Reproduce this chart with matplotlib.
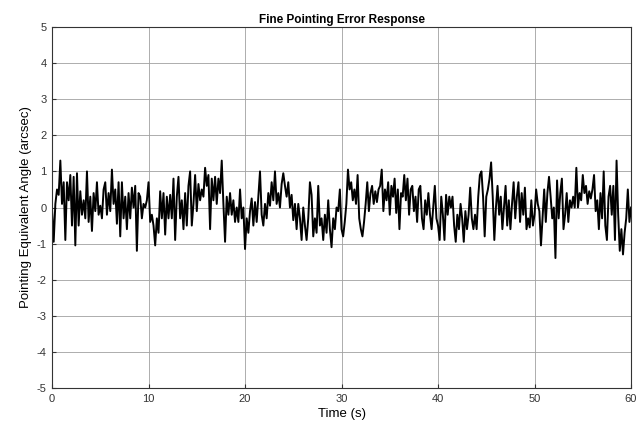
import numpy as np
import matplotlib.pyplot as plt

plt.rcParams['font.family'] = ['Liberation Sans', 'DejaVu Sans']
plt.rcParams['axes.unicode_minus'] = False

# pointing error samples, one list per 10 s span (arcsec)
err_0_10 = [-0.04, -0.95, 0.1, 0.5, 0.35, 1.3, 0.1, 0.7, -0.9, 0.7, 0.2, 0.9, -0.5, 0.85, -1.05,
            0.95, -0.5, 0.45, -0.2, 0.2, -0.3, 1.0, -0.4, 0.3, -0.65, 0.4, -0.1, 0.7, -0.2, 0.05,
            -0.3, 0.5, 0.7, -0.2, 0.4, -0.1, 1.05, 0.1, 0.5, -0.45, 0.7, -0.8, 0.7, -0.3, 0.3,
            -0.6, 0.4, -0.3, 0.55, 0.0, 0.6, -1.2, 0.4, 0.3, -0.3, 0.1, 0.0, 0.2]
err_10_20 = [0.7, -0.4, -0.2, -0.5, -1.05, -0.3, -0.7, 0.45, -0.3, 0.4, -0.75, 0.3, -0.3, 0.35,
             -0.3, 0.8, -0.9, 0.3, 0.85, -0.3, 0.2, -0.6, 0.4, -0.5, 0.6, 1.0, -0.5, 0.1, 0.9,
             -0.1, 0.65, 0.2, 0.5, 0.3, 1.1, 0.6, 0.9, -0.6, 0.8, 0.2, 0.85, 0.1, 0.8, 0.4, 1.3,
             0.1, -0.95, 0.3, -0.2, 0.4, -0.2, 0.2, -0.4, 0.0, -0.4, 0.5, -0.3, 0.0]
err_20_30 = [-1.15, -0.3, -0.7, -0.1, 0.25, -0.5, 0.15, -0.4, 0.3, 1.0, -0.2, -0.5, 0.1, -0.3,
             0.4, 0.05, 0.7, 0.2, 1.0, 0.1, 0.4, 0.0, 0.65, 0.95, 0.6, 0.3, 0.7, 0.0, 0.35,
             -0.35, 0.1, -0.6, 0.1, -0.3, -0.9, 0.0, -0.5, -0.9, -0.3, 0.7, 0.35, -0.8, -0.3,
             -0.7, 0.6, -0.5, -0.3, -0.9, -0.2, -0.7, 0.2, -0.6, -1.1, -0.3, -0.6, 0.0, -0.1, 0.5]
err_30_40 = [-0.6, -0.8, -0.4, 0.1, 1.05, 0.5, 0.7, 0.2, 0.5, 0.1, 0.9, -0.3, -0.6, -0.8, -0.4,
             0.1, 0.7, -0.1, 0.4, 0.6, 0.1, 0.45, 0.15, 0.5, 0.6, 1.05, -0.1, 0.5, 0.2, 0.7,
             -0.2, 0.6, 0.3, 0.8, -0.15, 0.5, -0.6, 0.4, 0.3, 0.9, 0.2, 0.8, -0.2, 0.5, 0.6,
             -0.1, 0.3, -0.4, 0.5, 0.6, -0.3, -0.6, 0.2, -0.2, 0.4, -0.2, -0.6, 0.0, 0.6, -0.3]
err_40_50 = [-0.5, -0.9, 0.3, -0.2, -0.9, 0.35, -0.2, 0.3, 0.0, 0.3, -0.5, -0.95, -0.2, -0.6,
             0.1, -0.3, -0.95, -0.1, -0.6, -0.2, 0.55, -0.3, -0.6, -0.2, -0.6, 0.3, 0.9, 1.0,
             0.3, -0.8, 0.3, 0.5, 0.8, 1.25, 0.3, -0.9, 0.0, 0.6, -0.2, 0.3, -0.6, 0.0, 0.6,
             -0.5, 0.2, -0.6, 0.1, 0.7, -0.3, 0.3, 0.7, -0.4, 0.4, -0.2, 0.55, -0.6, -0.3,
             -0.55, 0.2, -0.5]
err_50_60 = [-0.2, 0.5, 0.1, -0.1, -1.05, -0.3, 0.5, -0.4, 0.4, 0.85, 0.3, -0.3, 0.0, -1.4,
             0.75, -0.3, 0.4, 0.8, -0.6, -0.2, 0.4, -0.4, 0.2, 0.0, 0.3, 0.0, 1.1, 0.0, 0.4,
             0.2, 0.9, 0.4, 0.6, 0.1, 0.45, 0.25, 0.5, 0.9, -0.1, 0.2, -0.6, 0.4, -0.3, 1.0,
             -0.5, -0.9, 0.3, 0.6, -0.2, 0.6, -0.9, 1.3, -0.2, -1.2, -0.6, -1.3, -0.7, -0.3,
             0.5, -0.4, 0.0]

spans = [(0, 10, err_0_10), (10, 20, err_10_20), (20, 30, err_20_30),
         (30, 40, err_30_40), (40, 50, err_40_50), (50, 60, err_50_60)]

t = []
err = []
for i, (t0, t1, vals) in enumerate(spans):
    last = i == len(spans) - 1
    t.append(np.linspace(t0, t1, len(vals), endpoint=last))
    err.append(vals)
t = np.concatenate(t)
err = np.concatenate(err)

fig = plt.figure(figsize=(6.36, 4.29), dpi=100)
ax = fig.add_axes([0.0818, 0.0956, 0.9104, 0.8414])

ax.plot(t, err, color='black', linewidth=1.4)

ax.set_xlim(0, 60)
ax.set_ylim(-5, 5)
ax.set_xticks(np.arange(0, 61, 10))
ax.set_yticks(np.arange(-5, 6, 1))
ax.grid(True, color='#a0a0a0', linewidth=0.6)
ax.tick_params(direction='in', length=3, labelsize=8, colors='#333333', pad=4)
for s in ax.spines.values():
    s.set_color('#333333')
    s.set_linewidth(0.8)

ax.set_title('Fine Pointing Error Response', fontsize=8.5, fontweight='bold', pad=3)
ax.set_xlabel('Time (s)', fontsize=9.5, labelpad=3)
ax.set_ylabel('Pointing Equivalent Angle (arcsec)', fontsize=9.5, labelpad=3)

fig.savefig('out.png', dpi=100)
